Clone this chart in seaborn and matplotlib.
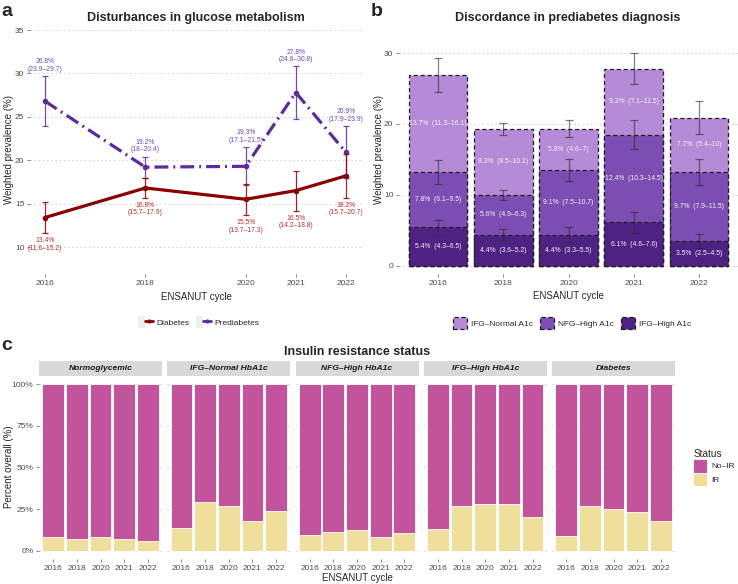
import numpy as np
import pandas as pd
import matplotlib
matplotlib.use("Agg")
import matplotlib.pyplot as plt
import seaborn as sns
from matplotlib.patches import Rectangle, Patch
from matplotlib.lines import Line2D
from matplotlib.legend_handler import HandlerTuple

# ---------------- data ----------------
years = [2016, 2018, 2020, 2021, 2022]
cycles = ["2016", "2018", "2020", "2021", "2022"]

# panel a
dm_est = [13.4, 16.8, 15.5, 16.5, 18.2]
dm_lo = [11.6, 15.7, 13.7, 14.2, 15.7]
dm_hi = [15.2, 17.9, 17.3, 18.8, 20.7]
pd_est = [26.8, 19.2, 19.3, 27.8, 20.9]
pd_lo = [23.9, 18.0, 17.1, 24.8, 17.9]
pd_hi = [29.7, 20.4, 21.5, 30.8, 23.9]

# panel b (stack order bottom -> top)
ifgh_est = [5.4, 4.4, 4.4, 6.1, 3.5]
ifgh_lo = [4.3, 3.6, 3.3, 4.6, 2.5]
ifgh_hi = [6.5, 5.2, 5.5, 7.6, 4.5]
nfgh_est = [7.8, 5.6, 9.1, 12.4, 9.7]
nfgh_lo = [6.1, 4.9, 7.5, 10.3, 7.9]
nfgh_hi = [9.5, 6.3, 10.7, 14.5, 11.5]
ifgn_est = [13.7, 9.3, 5.8, 9.3, 7.7]
ifgn_lo = [11.3, 8.5, 4.6, 7.1, 5.4]
ifgn_hi = [16.1, 10.1, 7.0, 11.5, 10.0]
b_labels = ["IFG\u2013Normal A1c", "NFG\u2013High A1c", "IFG\u2013High A1c"]

# panel c (IR share, fraction)
c_groups = ["Normoglycemic", "IFG\u2013Normal HbA1c", "NFG\u2013High HbA1c",
            "IFG\u2013High HbA1c", "Diabetes"]
ir_normo = [0.086, 0.074, 0.082, 0.072, 0.060]
ir_ifgn = [0.140, 0.294, 0.272, 0.182, 0.240]
ir_nfgh = [0.094, 0.114, 0.126, 0.084, 0.106]
ir_ifgh = [0.132, 0.268, 0.284, 0.282, 0.206]
ir_dm = [0.092, 0.272, 0.254, 0.236, 0.178]
ir_all = [ir_normo, ir_ifgn, ir_nfgh, ir_ifgh, ir_dm]

# ---------------- style ----------------
sns.set_style("white")
plt.rcParams["font.family"] = ["Liberation Sans", "DejaVu Sans"]
plt.rcParams["lines.scale_dashes"] = False

C_DM, C_DM_T = "#8B0000", "#B5302A"
C_PD, C_PD_T = "#5B2C9A", "#7249B8"
C_L, C_M, C_D = "#B58AD6", "#7C4DB2", "#4E2283"
C_NOIR, C_IR = "#C2549B", "#F0DF9C"
TICK_C = "#4D4D4D"
GRID = dict(color="#C4C4C4", linestyle=(0, (1, 2)), linewidth=0.6)
LAB_FS = 4.85

W, H = 738, 584
fig = plt.figure(figsize=(W / 100, H / 100), dpi=100)


def ax_px(l, t, r, b):
    return fig.add_axes([l / W, 1 - b / H, (r - l) / W, (b - t) / H])


def fx(x):
    return x / W


def fy(y):
    return 1 - y / H


def style(ax):
    for s in ax.spines.values():
        s.set_visible(False)
    ax.tick_params(axis="both", length=2.5, width=0.5, color="#555555",
                   labelsize=6.0, labelcolor=TICK_C, pad=1.5,
                   bottom=True, left=True)
    ax.yaxis.grid(True, **GRID)
    ax.xaxis.grid(False)
    ax.set_axisbelow(True)
    ax.set_xlabel("")
    ax.set_ylabel("")


def fmt(v):
    return f"{v:g}"


# ---------------- panel a ----------------
axa = ax_px(30, 27, 362, 274)
df_a = pd.DataFrame({
    "cycle": years + years,
    "prev": dm_est + pd_est,
    "group": ["Diabetes"] * 5 + ["Prediabetes"] * 5,
})
sns.lineplot(data=df_a, x="cycle", y="prev", hue="group", style="group",
             palette={"Diabetes": C_DM, "Prediabetes": C_PD},
             dashes={"Diabetes": "", "Prediabetes": (10.0, 3.6, 1.4, 3.6)},
             markers={"Diabetes": "o", "Prediabetes": "o"},
             markersize=4, markeredgewidth=0, linewidth=2.3,
             legend=False, ax=axa)
for est, lo, hi, col in [(pd_est, pd_lo, pd_hi, C_PD), (dm_est, dm_lo, dm_hi, C_DM)]:
    e = np.array(est)
    axa.errorbar(years, est, yerr=[e - np.array(lo), np.array(hi) - e],
                 fmt="none", ecolor=col, elinewidth=0.9, capsize=2.4,
                 capthick=0.9, alpha=0.85)
for x, e, lo, hi in zip(years, pd_est, pd_lo, pd_hi):
    axa.annotate(f"{fmt(e)}%\n({fmt(lo)}\u2013{fmt(hi)})", xy=(x, hi),
                 xytext=(0, 2.5), textcoords="offset points", ha="center",
                 va="bottom", fontsize=LAB_FS, color=C_PD_T, linespacing=1.1)
for x, e, lo, hi in zip(years, dm_est, dm_lo, dm_hi):
    axa.annotate(f"{fmt(e)}%\n({fmt(lo)}\u2013{fmt(hi)})", xy=(x, lo),
                 xytext=(0, -3), textcoords="offset points", ha="center",
                 va="top", fontsize=LAB_FS, color=C_DM_T, linespacing=1.1)
style(axa)
axa.set_xlim(2015.70, 2022.32)
axa.set_ylim(6.89, 35.35)
axa.set_xticks(years)
axa.set_yticks([10, 15, 20, 25, 30, 35])

fig.text(fx(196), fy(18), "Disturbances in glucose metabolism", ha="center",
         va="center", fontsize=9, fontweight="bold")
fig.text(fx(196), fy(297), "ENSANUT cycle", ha="center", va="center", fontsize=7)
fig.text(fx(9), fy(150), "Weighted prevalence (%)", ha="center", va="center",
         rotation=90, fontsize=7)
fig.text(fx(1), fy(12), "a", ha="left", va="center", fontsize=14, fontweight="bold")

key_bg = dict(facecolor="#EFEFEF", edgecolor="none")
h_dm = (Rectangle((0, 0), 1, 1, **key_bg),
        Line2D([], [], color=C_DM, lw=2.0, marker="o", ms=3, mew=0))
h_pd = (Rectangle((0, 0), 1, 1, **key_bg),
        Line2D([], [], color=C_PD, lw=2.0, marker="o", ms=3, mew=0))
fig.legend([h_dm, h_pd], ["Diabetes", "Prediabetes"],
           handler_map={tuple: HandlerTuple(ndivide=None, pad=0)},
           loc="center", bbox_to_anchor=(fx(199), fy(322)), ncol=2,
           frameon=False, fontsize=6.0, handlelength=1.7, handleheight=1.7,
           handletextpad=0.5, columnspacing=0.8, borderpad=0)

# ---------------- panel b ----------------
axb = ax_px(399, 27, 738, 274)
s1 = np.array(ifgh_est)
s2 = s1 + np.array(nfgh_est)
s3 = s2 + np.array(ifgn_est)
for vals, col in [(s3, C_L), (s2, C_M), (s1, C_D)]:
    sns.barplot(x=cycles, y=vals, order=cycles, color=col, saturation=1,
                width=0.9, edgecolor="#1E1E1E", linewidth=0.9,
                linestyle=(0, (3, 2)), ax=axb)
xs = np.arange(5)
for top, est, lo, hi in [(s1, ifgh_est, ifgh_lo, ifgh_hi),
                         (s2, nfgh_est, nfgh_lo, nfgh_hi),
                         (s3, ifgn_est, ifgn_lo, ifgn_hi)]:
    e = np.array(est)
    axb.errorbar(xs, top, yerr=[e - np.array(lo), np.array(hi) - e], fmt="none",
                 ecolor="#2A2A2A", elinewidth=0.9, capsize=2.6, capthick=0.9,
                 alpha=0.6)
for base, est, lo, hi in [(np.zeros(5), ifgh_est, ifgh_lo, ifgh_hi),
                          (s1, nfgh_est, nfgh_lo, nfgh_hi),
                          (s2, ifgn_est, ifgn_lo, ifgn_hi)]:
    for i in range(5):
        axb.text(i, base[i] + est[i] / 2,
                 f"{fmt(est[i])}%  ({fmt(lo[i])}\u2013{fmt(hi[i])})",
                 ha="center", va="center", fontsize=LAB_FS, color="#F2F2F2")
style(axb)
axb.set_xlim(-0.6, 4.6)
axb.set_ylim(-1.17, 33.67)
axb.set_yticks([0, 10, 20, 30])

fig.text(fx(568), fy(18), "Discordance in prediabetes diagnosis", ha="center",
         va="center", fontsize=9, fontweight="bold")
fig.text(fx(568), fy(296), "ENSANUT cycle", ha="center", va="center", fontsize=7)
fig.text(fx(379), fy(150), "Weighted prevalence (%)", ha="center", va="center",
         rotation=90, fontsize=7)
fig.text(fx(371), fy(12), "b", ha="left", va="center", fontsize=14, fontweight="bold")

b_handles = [Patch(facecolor=c, edgecolor="#1E1E1E", linestyle=(0, (3, 2)),
                   linewidth=0.9) for c in (C_L, C_M, C_D)]
fig.legend(b_handles, b_labels, loc="center", bbox_to_anchor=(fx(572), fy(323)),
           ncol=3, frameon=False, fontsize=6.0, handlelength=1.7,
           handleheight=1.7, handletextpad=0.5, columnspacing=0.8, borderpad=0)

# ---------------- panel c ----------------
for i, (g, ir) in enumerate(zip(c_groups, ir_all)):
    l = 39 + i * 128.25
    ax = ax_px(l, 376, l + 123, 559)
    sns.barplot(x=cycles, y=[1.0] * 5, order=cycles, color=C_NOIR, saturation=1,
                width=0.92, edgecolor="white", linewidth=0.6, ax=ax)
    sns.barplot(x=cycles, y=ir, order=cycles, color=C_IR, saturation=1,
                width=0.92, edgecolor="white", linewidth=0.6, ax=ax)
    style(ax)
    ax.set_xlim(-0.6, 4.6)
    ax.set_ylim(-0.048, 1.048)
    ax.set_yticks([0, 0.25, 0.5, 0.75, 1.0])
    if i == 0:
        ax.set_yticklabels(["0%", "25%", "50%", "75%", "100%"])
    else:
        ax.set_yticklabels([])
        ax.tick_params(axis="y", length=0)
    fig.add_artist(Rectangle((fx(l), fy(376)), 123 / W, 15 / H,
                             transform=fig.transFigure, facecolor="#D9D9D9",
                             edgecolor="none"))
    fig.text(fx(l + 61.5), fy(368.5), g, ha="center", va="center", fontsize=6.1,
             fontweight="bold", fontstyle="italic", color="#1A1A1A")

fig.text(fx(357), fy(352), "Insulin resistance status", ha="center", va="center",
         fontsize=9, fontweight="bold")
fig.text(fx(357), fy(578), "ENSANUT cycle", ha="center", va="center", fontsize=7)
fig.text(fx(9), fy(467), "Percent overall (%)", ha="center", va="center",
         rotation=90, fontsize=7)
fig.text(fx(1), fy(345), "c", ha="left", va="center", fontsize=14, fontweight="bold")

c_handles = [Patch(facecolor=C_NOIR, edgecolor="white", linewidth=0.6),
             Patch(facecolor=C_IR, edgecolor="white", linewidth=0.6)]
fig.legend(c_handles, ["No\u2013IR", "IR"], title="Status", loc="upper left",
           bbox_to_anchor=(fx(689), fy(445)), frameon=False, fontsize=6.0,
           title_fontsize=7.2, handlelength=1.7, handleheight=2.1,
           handletextpad=0.5, labelspacing=0.0, borderpad=0,
           alignment="left")

fig.savefig("out.png", dpi=100)
